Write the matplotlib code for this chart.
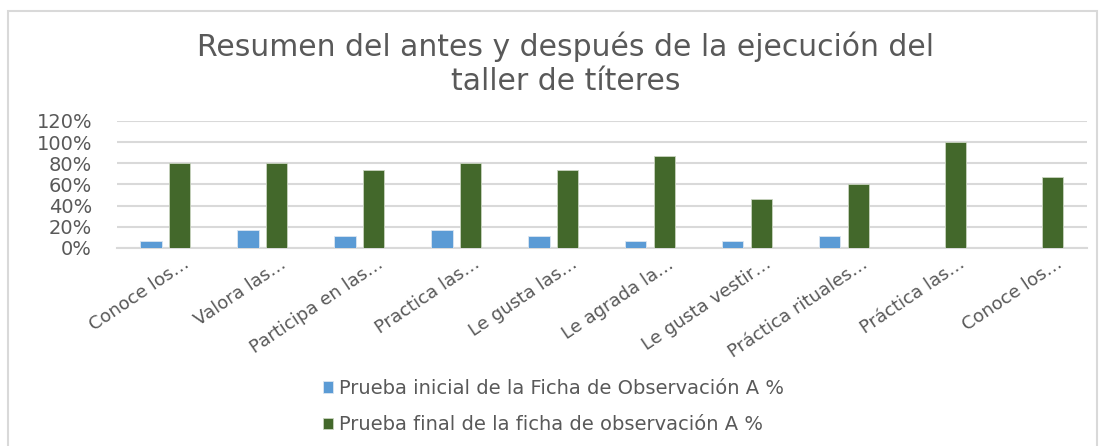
import matplotlib.pyplot as plt
import matplotlib.transforms as mtransforms
from matplotlib.patches import Rectangle
import numpy

categorias = ["Conoce los…", "Valora las…", "Participa en las…", "Practica las…",
              "Le gusta las…", "Le agrada la…", "Le gusta vestir…", "Práctica rituales…",
              "Práctica las…", "Conoce los…"]
inicial = [6.7, 16.7, 11.1, 16.7, 11.1, 6.7, 6.7, 11.1, 0, 0]
final = [80, 80, 73.3, 80, 73.3, 86.7, 46.7, 60, 100, 66.7]
yticks = [0, 20, 40, 60, 80, 100, 120]

serie_inicial = "Prueba inicial de la Ficha de Observación A %"
serie_final = "Prueba final de la ficha de observación A %"
titulo = "Resumen del antes y después de la ejecución del\ntaller de títeres"

GRIS = "#595959"
AZUL = "#5B9BD5"
VERDE = "#43682B"

fig = plt.figure(figsize=(11.07, 4.46), dpi=100)
ax = fig.add_axes([0.1057, 0.444, 0.876, 0.2847])

x = numpy.arange(len(categorias))
ancho = 0.22
ax.bar(x - 0.15, inicial, ancho, color=AZUL, edgecolor="#dbe6f1", linewidth=0.6,
       label=serie_inicial, zorder=3)
ax.bar(x + 0.145, final, ancho, color=VERDE, edgecolor="#c9d4c0", linewidth=0.6,
       label=serie_final, zorder=3)

ax.set_xlim(-0.5, len(categorias) - 0.5)
ax.set_ylim(0, 120)
ax.set_yticks(yticks)
ax.set_yticklabels([str(v) + "%" for v in yticks], fontsize=14, color=GRIS)
ax.yaxis.grid(True, color="#d9d9d9", linewidth=1.5, zorder=0)
for s in ["top", "right", "left"]:
    ax.spines[s].set_visible(False)
ax.spines["bottom"].set_color("#d9d9d9")
ax.spines["bottom"].set_linewidth(1.5)
ax.tick_params(axis="y", length=0, pad=18)
ax.tick_params(axis="x", length=0, pad=6)

ax.set_xticks(x)
ax.set_xticklabels(categorias, rotation=34, ha="right", va="center",
                   rotation_mode="anchor", fontsize=13, color=GRIS)
desplaza = mtransforms.ScaledTranslation(22 / 100, -6 / 100, fig.dpi_scale_trans)
for lab in ax.get_xticklabels():
    lab.set_transform(lab.get_transform() + desplaza)

fig.text(0.511, 0.857, titulo, ha="center", va="center", fontsize=21.5,
         color=GRIS, linespacing=1.2)

fig.legend(loc="center", bbox_to_anchor=(0.5, 0.088), ncol=1, frameon=False,
           fontsize=14, labelcolor=GRIS, handlelength=0.55, handleheight=0.55,
           handletextpad=0.3, labelspacing=0.88)

fig.patches.append(Rectangle((8 / 1107, -0.01), 1089 / 1107, 1 - 11 / 446 + 0.01,
                             transform=fig.transFigure, fill=False,
                             edgecolor="#d9d9d9", linewidth=1.5))

fig.savefig("out.png", dpi=100)
